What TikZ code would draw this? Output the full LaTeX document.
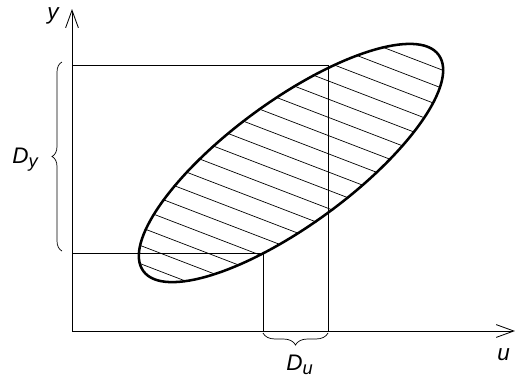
\documentclass[tikz,border=0pt]{standalone}
\usepackage{fontspec}
\setmainfont{Liberation Sans}
\usetikzlibrary{arrows.meta}
\usetikzlibrary{decorations.pathreplacing}
\newcommand{\lsub}[1]{\raisebox{-1mm}{\fontsize{13}{15}\selectfont #1}}

\begin{document}
\begin{tikzpicture}[x=0.25mm, y=0.25mm, line width=0.6pt,
        axis/.style = {-{Straight Barb[length=4.4mm, width=3.2mm]}},
        hatch/.style = {line width=0.5pt},
        lbl/.style = {font=\fontsize{16}{18}\selectfont\itshape, inner sep=0pt, anchor=base west},
        brc/.style = {decorate, decoration={brace, amplitude=#1}, line width=0.5pt}]
            \useasboundingbox (0,0) rectangle (515,380);
            \coordinate (o) at (72,49);
            \coordinate (ytop) at (72,371);
            \coordinate (xend) at (515,49);
            \coordinate (c) at (291,217);
            \coordinate (a1) at (72,315);
            \coordinate (p1) at (328,315);
            \coordinate (q1) at (328,49);
            \coordinate (a2) at (72,127);
            \coordinate (p2) at (263,127);
            \coordinate (q2) at (263,49);
            \draw[axis] (o) -- (ytop);
            \draw[axis] (o) -- (xend);
            \draw (a1) -- (p1) -- (q1);
            \draw (a2) -- (p2) -- (q2);
            \begin{scope}
                \clip[rotate around={36.2:(c)}] (c) ellipse (184 and 63);
                \begin{scope}[shift={(c)}, rotate=-21]
                    \foreach \k in {-11,...,11}
                        \draw[hatch] (-260,\k*17+5) -- (260,\k*17+5);
                \end{scope}
            \end{scope}
            \draw[line width=1.8pt, rotate around={36.2:(c)}] (c) ellipse (183 and 62);
            \draw[brc=2.5mm] (62,129) -- (62,318);
            \draw[brc=3mm] (328,47) -- (263,47);
            \node[lbl] (ylbl) at (47,361) {y};
            \node[lbl] (dy) at (12,217) {D\lsub{y}};
            \node[lbl] (du) at (286,10) {D\lsub{u}};
            \node[lbl] (ulbl) at (497,20) {u};
        \end{tikzpicture}
\end{document}
